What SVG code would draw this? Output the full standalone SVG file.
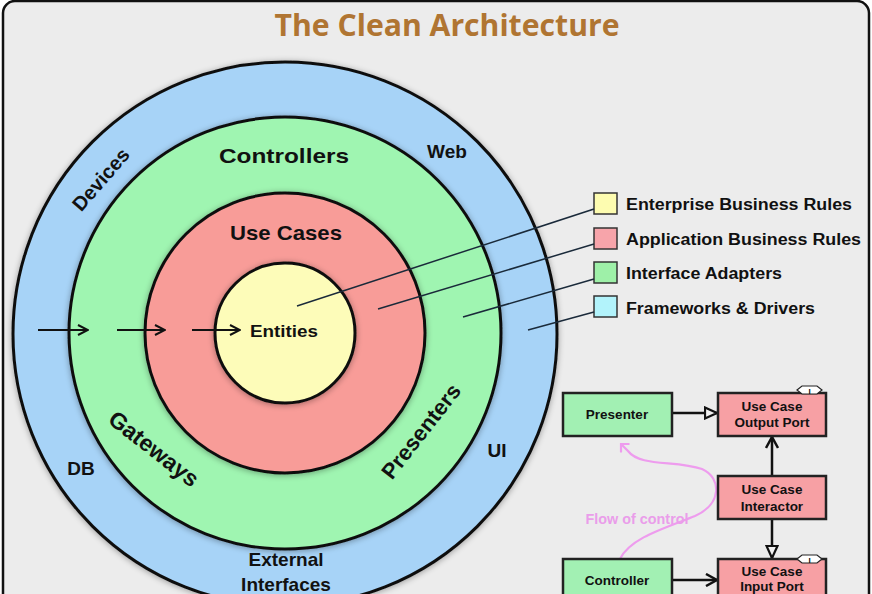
<svg xmlns="http://www.w3.org/2000/svg" width="872" height="594" viewBox="0 0 872 594">
  <defs>
    <style>
      .lbl { font-family: "Liberation Sans", Arial, sans-serif; font-weight: bold; fill: #111; }
      .ring { stroke: #111; stroke-width: 3; }
      .box { stroke: #222; stroke-width: 2.5; }
      .leg { stroke: #333; stroke-width: 1.5; }
      .ptr { stroke: #1a2a3a; stroke-width: 1.5; fill: none; }
      .arr { stroke: #111; stroke-width: 2; fill: none; }
      .conn { stroke: #111; stroke-width: 2.5; fill: none; }
    </style>
    <filter id="sh" x="-10%" y="-10%" width="120%" height="120%">
      <feGaussianBlur in="SourceAlpha" stdDeviation="3"/>
      <feOffset dx="0" dy="1" result="b"/>
      <feComponentTransfer><feFuncA type="linear" slope="0.35"/></feComponentTransfer>
      <feMerge><feMergeNode/><feMergeNode in="SourceGraphic"/></feMerge>
    </filter>
    <marker id="v" viewBox="0 0 12 12" refX="11" refY="6" markerWidth="12" markerHeight="12" markerUnits="userSpaceOnUse" orient="auto">
      <path d="M1,1 L11,6 L1,11" fill="none" stroke="#111" stroke-width="2"/>
    </marker>
    <marker id="v2" viewBox="0 0 14 14" refX="12" refY="7" markerWidth="14" markerHeight="14" markerUnits="userSpaceOnUse" orient="auto">
      <path d="M1,1 L12,7 L1,13" fill="none" stroke="#111" stroke-width="2.5"/>
    </marker>
    <marker id="tri" viewBox="0 0 14 14" refX="13" refY="7" markerWidth="14" markerHeight="14" markerUnits="userSpaceOnUse" orient="auto">
      <path d="M1,1.5 L13,7 L1,12.5 Z" fill="#f0f0f0" stroke="#111" stroke-width="2.2"/>
    </marker>
    <marker id="pv" viewBox="0 0 14 14" refX="7" refY="7" markerWidth="14" markerHeight="14" markerUnits="userSpaceOnUse" orient="auto">
      <path d="M1,1 L7,7 L1,13" fill="none" stroke="#ee9cee" stroke-width="2.2"/>
    </marker>
  </defs>

  <!-- frame -->
  <rect x="3" y="1" width="866" height="640" rx="12" fill="#ececec" stroke="#111" stroke-width="2.5"/>

  <text x="447" y="36" text-anchor="middle" font-family="'Open Sans', 'Liberation Sans', sans-serif" font-weight="bold" font-size="30" fill="#b07532" textLength="345" lengthAdjust="spacingAndGlyphs">The Clean Architecture</text>

  <!-- rings -->
  <g id="frameworks-drivers">
    <circle cx="285" cy="334" r="272" fill="#a7d3f7" class="ring" filter="url(#sh)"/>
  </g>
  <g id="interface-adapters">
    <circle cx="285" cy="333" r="216" fill="#9ff5b1" class="ring" filter="url(#sh)"/>
  </g>
  <g id="application-business-rules">
    <circle cx="285" cy="333" r="140" fill="#f89c98" class="ring" filter="url(#sh)"/>
  </g>
  <g id="enterprise-business-rules">
    <circle cx="285" cy="333" r="70" fill="#fdfcb9" class="ring" filter="url(#sh)"/>
  </g>

  <!-- ring labels -->
  <g id="ring-labels">
    <text class="lbl" x="284" y="163" text-anchor="middle" font-size="21" textLength="130" lengthAdjust="spacingAndGlyphs">Controllers</text>
    <text class="lbl" x="286" y="240" text-anchor="middle" font-size="21" textLength="112" lengthAdjust="spacingAndGlyphs">Use Cases</text>
    <text class="lbl" x="284" y="337" text-anchor="middle" font-size="17" textLength="68" lengthAdjust="spacingAndGlyphs">Entities</text>
    <text class="lbl" x="447" y="158" text-anchor="middle" font-size="19" fill="#0d1a33">Web</text>
    <text class="lbl" x="81" y="475" text-anchor="middle" font-size="19">DB</text>
    <text class="lbl" x="497" y="457" text-anchor="middle" font-size="19">UI</text>
    <text class="lbl" x="286" y="566" text-anchor="middle" font-size="19">External</text>
    <text class="lbl" x="286" y="591" text-anchor="middle" font-size="19">Interfaces</text>
    <text class="lbl" x="0" y="0" text-anchor="middle" font-size="20" transform="translate(106,184) rotate(-49)">Devices</text>
    <text class="lbl" x="0" y="0" text-anchor="middle" font-size="23" transform="translate(149,455) rotate(38)">Gateways</text>
    <text class="lbl" x="0" y="0" text-anchor="middle" font-size="22" transform="translate(427,436) rotate(-52)">Presenters</text>
  </g>

  <!-- legend -->
  <g id="legend-enterprise">
    <rect x="594" y="193" width="23" height="21" fill="#fdfcb0" class="leg"/>
    <text class="lbl" x="626" y="210" font-size="16" textLength="226" lengthAdjust="spacingAndGlyphs">Enterprise Business Rules</text>
  </g>
  <g id="legend-application">
    <rect x="594" y="228" width="23" height="21" fill="#f7a4aa" class="leg"/>
    <text class="lbl" x="626" y="245" font-size="16" textLength="235" lengthAdjust="spacingAndGlyphs">Application Business Rules</text>
  </g>
  <g id="legend-adapters">
    <rect x="594" y="262" width="23" height="21" fill="#9ef0a8" class="leg"/>
    <text class="lbl" x="626" y="279" font-size="16" textLength="156" lengthAdjust="spacingAndGlyphs">Interface Adapters</text>
  </g>
  <g id="legend-frameworks">
    <rect x="594" y="296" width="23" height="21" fill="#b2f3fb" class="leg"/>
    <text class="lbl" x="626" y="314" font-size="16" textLength="189" lengthAdjust="spacingAndGlyphs">Frameworks &amp; Drivers</text>
  </g>

  <!-- connectors -->
  <g id="connectors">
    <line class="ptr" x1="594" y1="209" x2="297" y2="306"/>
    <line class="ptr" x1="594" y1="244" x2="378" y2="309"/>
    <line class="ptr" x1="594" y1="279" x2="463" y2="317"/>
    <line class="ptr" x1="594" y1="312" x2="528" y2="330"/>

    <line class="arr" x1="38" y1="330" x2="88" y2="330" marker-end="url(#v)"/>
    <line class="arr" x1="117" y1="330" x2="165" y2="330" marker-end="url(#v)"/>
    <line class="arr" x1="192" y1="330" x2="240" y2="330" marker-end="url(#v)"/>

    <line class="conn" x1="672" y1="413" x2="717" y2="413" marker-end="url(#tri)"/>
    <line class="conn" x1="672" y1="580" x2="717" y2="580" marker-end="url(#v2)"/>
    <line class="conn" x1="772" y1="476" x2="772" y2="437" marker-end="url(#v2)"/>
    <line class="conn" x1="772" y1="519" x2="772" y2="558" marker-end="url(#tri)"/>

    <path d="M620,559 C630,538 665,528 695,516 C722,504 722,478 702,469 C676,460 640,467 628,451 L621,444" fill="none" stroke="#ee9cee" stroke-width="2.2" marker-end="url(#pv)"/>
  </g>

  <text x="637" y="524" text-anchor="middle" font-family="'Liberation Sans', Arial, sans-serif" font-weight="bold" font-size="14.5" fill="#ea9dea" textLength="103" lengthAdjust="spacingAndGlyphs">Flow of control</text>

  <!-- flow nodes -->
  <g id="presenter">
    <rect x="563" y="393" width="109" height="43" fill="#a2f0b3" class="box"/>
    <text class="lbl" x="617" y="419" text-anchor="middle" font-size="13.5">Presenter</text>
  </g>
  <g id="output-port">
    <rect x="718" y="393" width="108" height="43" fill="#f7a0a4" class="box"/>
    <text class="lbl" x="772" y="411" text-anchor="middle" font-size="13.5">Use Case</text>
    <text class="lbl" x="772" y="427" text-anchor="middle" font-size="13.5">Output Port</text>
    <path d="M797,390 L802,386 L817,386 L822,390 L817,394 L802,394 Z" fill="#fff" stroke="#222" stroke-width="1.2"/>
    <text class="lbl" x="809.5" y="393.5" text-anchor="middle" font-size="8">I</text>
  </g>
  <g id="interactor">
    <rect x="718" y="476" width="108" height="43" fill="#f7a0a4" class="box"/>
    <text class="lbl" x="772" y="494" text-anchor="middle" font-size="13.5">Use Case</text>
    <text class="lbl" x="772" y="511" text-anchor="middle" font-size="13.5">Interactor</text>
  </g>
  <g id="controller">
    <rect x="563" y="559" width="109" height="45" fill="#a2f0b3" class="box"/>
    <text class="lbl" x="617" y="585" text-anchor="middle" font-size="13.5">Controller</text>
  </g>
  <g id="input-port">
    <rect x="718" y="559" width="108" height="45" fill="#f7a0a4" class="box"/>
    <text class="lbl" x="772" y="576" text-anchor="middle" font-size="13.5">Use Case</text>
    <text class="lbl" x="772" y="591" text-anchor="middle" font-size="13.5">Input Port</text>
    <path d="M797,559 L802,555 L817,555 L822,559 L817,563 L802,563 Z" fill="#fff" stroke="#222" stroke-width="1.2"/>
    <text class="lbl" x="809.5" y="562.5" text-anchor="middle" font-size="8">I</text>
  </g>
</svg>
